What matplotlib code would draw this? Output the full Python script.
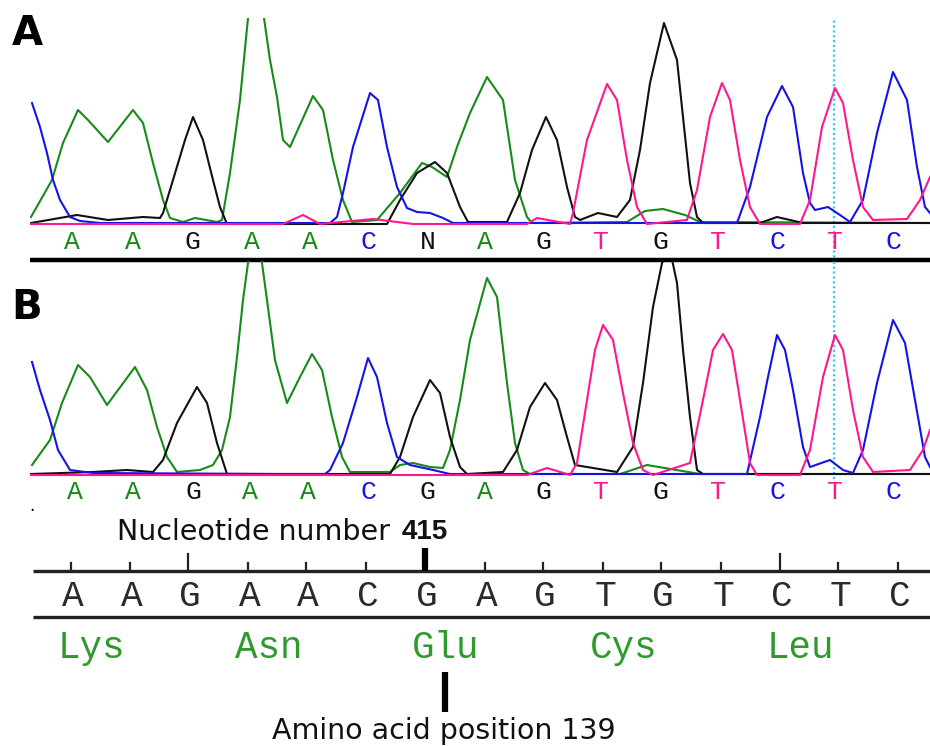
import matplotlib.pyplot as plt

# Sanger trace data: (scan position, signal)
# panel A (heterozygous N at position 7)
a_green = [(31, 7), (52, 44), (63, 81), (78, 114), (88, 104), (108, 82), (133, 114), (143, 101),
           (153, 61), (163, 24), (170, 6), (183, 2), (195, 6), (217, 2), (222, 4), (230, 51),
           (240, 124), (248, 206), (256, 235), (264, 206), (270, 164), (277, 127), (283, 84),
           (290, 77), (313, 128), (323, 114), (333, 64), (343, 24), (352, 2), (377, 4), (400, 31),
           (422, 61), (432, 57), (447, 47), (457, 77), (470, 111), (487, 147), (503, 124),
           (515, 44), (527, 7), (532, 1), (627, 2), (645, 13), (663, 15), (685, 9), (700, 2),
           (930, 1)]
a_black = [(31, 1), (77, 9), (108, 4), (143, 7), (160, 6), (163, 11), (173, 44), (185, 84),
           (193, 107), (203, 84), (213, 44), (220, 17), (227, 0), (387, 0), (400, 24), (417, 51),
           (435, 62), (447, 51), (460, 17), (468, 2), (507, 2), (520, 31), (532, 74), (546, 107),
           (557, 84), (567, 37), (575, 7), (580, 4), (598, 11), (617, 7), (630, 24), (640, 74),
           (650, 141), (664, 201), (677, 164), (683, 107), (690, 41), (697, 7), (703, 1),
           (760, 1), (777, 7), (803, 1), (930, 1)]
a_blue = [(32, 121), (40, 97), (47, 71), (53, 44), (60, 24), (70, 7), (80, 3), (100, 1),
          (330, 1), (337, 7), (343, 31), (353, 77), (370, 131), (378, 124), (387, 77), (397, 37),
          (407, 16), (417, 12), (430, 11), (443, 6), (453, 1), (737, 1), (750, 37), (767, 107),
          (782, 138), (793, 117), (803, 51), (810, 21), (815, 14), (828, 17), (840, 9),
          (850, 2), (863, 24), (877, 91), (893, 152), (907, 124), (917, 57), (925, 17),
          (930, 11)]
a_pink = [(31, 0), (283, 0), (303, 9), (320, 0), (373, 5), (413, 0), (527, 0), (537, 6),
          (570, 0), (573, 11), (587, 84), (607, 140), (617, 124), (627, 64), (637, 17),
          (647, 0), (687, 4), (697, 34), (710, 107), (722, 141), (730, 124), (740, 64),
          (750, 17), (760, 0), (800, 0), (810, 24), (822, 97), (835, 136), (843, 121),
          (853, 64), (863, 17), (873, 4), (907, 5), (920, 24), (930, 47)]

# panel B (homozygous G at position 7)
b_green = [(32, 10), (50, 35), (62, 72), (78, 110), (90, 98), (107, 70), (135, 108), (147, 85),
           (157, 48), (167, 18), (177, 3), (200, 5), (213, 10), (222, 25), (230, 58), (237, 118),
           (243, 175), (248, 212), (255, 235), (262, 212), (267, 175), (275, 115), (287, 72),
           (300, 98), (312, 121), (322, 105), (332, 58), (342, 18), (350, 3), (390, 3),
           (400, 10), (413, 12), (430, 8), (443, 7), (450, 25), (460, 75), (470, 135),
           (487, 197), (497, 178), (507, 92), (515, 32), (523, 5), (530, 1), (620, 1),
           (647, 10), (700, 1), (930, 1)]
b_black = [(31, 1), (93, 3), (127, 5), (153, 3), (163, 15), (177, 52), (197, 88), (207, 72),
           (217, 32), (227, 1), (390, 1), (400, 18), (413, 58), (430, 95), (440, 82), (450, 38),
           (460, 8), (467, 1), (503, 3), (517, 25), (530, 68), (545, 92), (557, 75), (567, 38),
           (575, 10), (593, 7), (617, 3), (633, 28), (643, 92), (653, 168), (662, 212),
           (670, 225), (677, 192), (683, 125), (690, 58), (697, 5), (703, 1), (930, 1)]
b_blue = [(32, 113), (40, 85), (50, 55), (58, 25), (70, 5), (93, 2), (278, 1), (325, 1),
          (330, 5), (343, 32), (357, 78), (368, 117), (377, 98), (387, 52), (397, 18),
          (410, 10), (433, 5), (450, 1), (747, 1), (760, 58), (768, 98), (777, 140), (785, 125),
          (793, 85), (803, 28), (810, 8), (830, 15), (843, 5), (853, 2), (863, 25), (877, 92),
          (893, 155), (905, 132), (915, 75), (925, 18), (930, 8)]
b_pink = [(31, 0), (527, 0), (547, 7), (570, 0), (577, 12), (587, 75), (595, 125), (603, 150),
          (613, 135), (623, 82), (633, 32), (643, 5), (653, 0), (690, 12), (703, 75),
          (713, 125), (723, 141), (732, 125), (740, 75), (750, 12), (757, 0), (800, 0),
          (810, 25), (823, 98), (835, 140), (843, 125), (853, 65), (863, 18), (873, 3),
          (910, 5), (923, 25), (930, 45)]

a_calls = "AAGAACNAGTGTCTC"
a_call_pos = [72, 133, 192, 252, 310, 368, 428, 485, 543, 601, 660, 718, 777, 835, 893]
b_calls = "AAGAACGAGTGTCTC"
b_call_pos = [75, 133, 193, 250, 308, 368, 427, 485, 543, 601, 660, 718, 777, 835, 893]
cursor_pos = 834

ref_seq = "AAGAACGAGTGTCTC"
ref_pos = [73, 132, 190, 250, 308, 368, 427, 487, 545, 605, 663, 723, 782, 840, 900]
ref_nt = list(range(409, 424))
major_nt = [411, 421]
marked_nt = 415
amino_acids = ["Lys", "Asn", "Glu", "Cys", "Leu"]
codon_start = [0, 3, 6, 9, 12]
marked_aa = 139

base_color = {"A": "#188a18", "G": "#111111", "C": "#1414e6", "T": "#ff178f", "N": "#111111"}
W, H = 930, 746

fig = plt.figure(figsize=(W / 100, H / 100), dpi=100)


def px_axes(x0, y0, x1, y1):
    return fig.add_axes([x0 / W, 1 - y1 / H, (x1 - x0) / W, (y1 - y0) / H])


def draw_traces(ax, traces, ytop):
    for tr, base in traces:
        xs = [p[0] for p in tr]
        ys = [p[1] for p in tr]
        ax.plot(xs, ys, color=base_color[base], lw=1.5)
    ax.axvline(cursor_pos, color="#33ccff", lw=1.6, ls=(0, (1, 1.2)), zorder=0)
    ax.set_xlim(30, 930)
    ax.set_ylim(-4, ytop)
    ax.axis("off")


axA = px_axes(30, 18, 930, 228)
draw_traces(axA, [(a_green, "A"), (a_black, "G"), (a_blue, "C"), (a_pink, "T")], 206)
axB = px_axes(30, 261, 930, 479)
draw_traces(axB, [(b_green, "A"), (b_black, "G"), (b_blue, "C"), (b_pink, "T")], 214)

# overlay in image coordinates for labels and ruler
ov = fig.add_axes([0, 0, 1, 1])
ov.set_xlim(0, W)
ov.set_ylim(H, 0)
ov.axis("off")
ov.set_zorder(-1)

mono = "Liberation Mono"
ov.plot([cursor_pos, cursor_pos], [226, 262], color="#33ccff", lw=1.6, ls=(0, (1, 1.2)))
for ch, x in zip(a_calls, a_call_pos):
    ov.text(x, 242, ch, color=base_color[ch], family=mono, fontsize=19, ha="center", va="center")
for ch, x in zip(b_calls, b_call_pos):
    ov.text(x, 492, ch, color=base_color[ch], family=mono, fontsize=19, ha="center", va="center")
ov.plot([30, 930], [260, 260], color="black", lw=3.2, solid_capstyle="butt")

ov.text(27, 34, "A", fontsize=29, fontweight="heavy", ha="center", va="center")
ov.text(27, 308, "B", fontsize=29, fontweight="heavy", ha="center", va="center")
ov.text(32, 506, ".", fontsize=12, ha="center", va="center")

# reference ruler
ov.plot([33, 930], [571, 571], color="#222222", lw=2.4, solid_capstyle="butt")
ov.plot([33, 930], [617, 617], color="#222222", lw=2.4, solid_capstyle="butt")
for nt, x in zip(ref_nt, ref_pos):
    tx = x - 2
    if nt == marked_nt:
        ov.plot([tx, tx], [548, 571], color="black", lw=4.5, solid_capstyle="butt")
    elif nt in major_nt:
        ov.plot([tx, tx], [554, 571], color="#222222", lw=1.6)
    else:
        ov.plot([tx, tx], [563, 571], color="#222222", lw=1.6)
for ch, x in zip(ref_seq, ref_pos):
    ov.text(x, 597, ch, color="#2a2a2a", family=mono, fontsize=26, ha="center", va="center")

ov.text(390, 532, "Nucleotide number", fontsize=20.5, ha="right", va="center", color="#111111")
ov.text(402, 532, str(marked_nt), fontsize=20, fontweight="bold", family="Liberation Sans",
        ha="left", va="center", color="#111111")

for aa, i in zip(amino_acids, codon_start):
    ov.text(ref_pos[i] - 15, 648, aa, color="#2e9a2e", family=mono, fontsize=27,
            ha="left", va="center")

ov.plot([445, 445], [672, 712], color="black", lw=4.5, solid_capstyle="butt")
ov.text(444, 731, f"Amino acid position {marked_aa}", fontsize=20.5, ha="center", va="center",
        color="#111111")

fig.savefig("out.png", dpi=100)
